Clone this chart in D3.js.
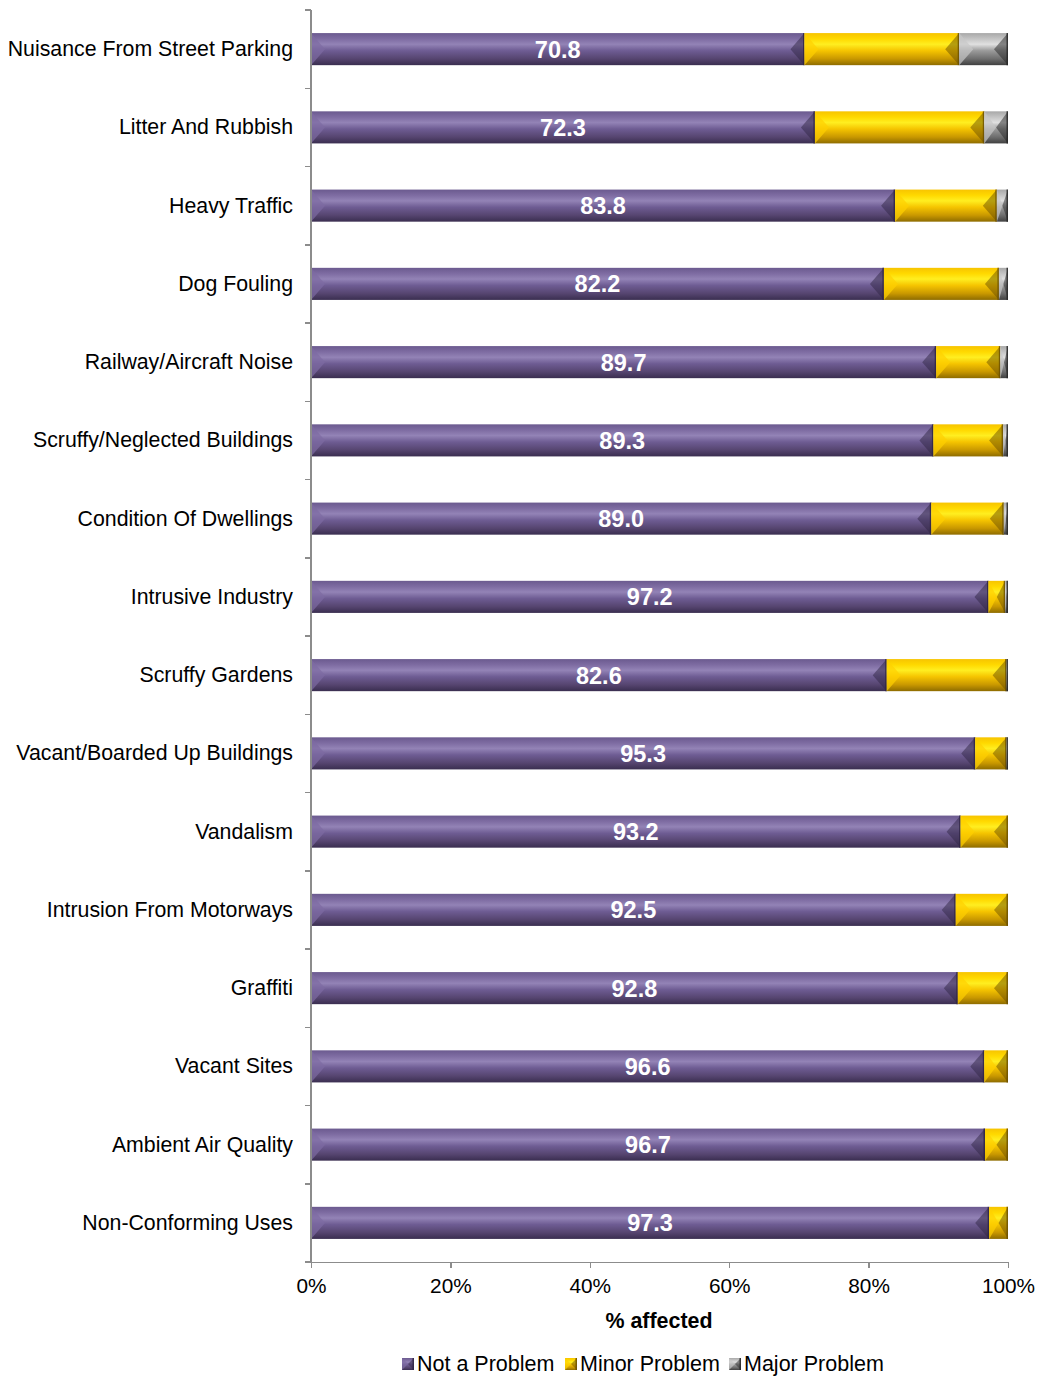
<!DOCTYPE html>
<html>
<head>
<meta charset="utf-8">
<title>Environmental problems</title>
<script src="https://d3js.org/d3.v7.min.js"></script>
<style>
  body { margin: 0; padding: 0; background: #fff; }
  svg { display: block; font-family: "Liberation Sans", Arial, sans-serif; }
  .axis path, .axis line { stroke: #8c8c8c; stroke-width: 1.5; shape-rendering: crispEdges; }
  .axis text { fill: #000; font-size: 20.8px; font-family: "Liberation Sans", Arial, sans-serif; }
</style>
</head>
<body>
<script>
var categories = [
  "Nuisance From Street Parking", "Litter And Rubbish", "Heavy Traffic", "Dog Fouling",
  "Railway/Aircraft Noise", "Scruffy/Neglected Buildings", "Condition Of Dwellings",
  "Intrusive Industry", "Scruffy Gardens", "Vacant/Boarded Up Buildings", "Vandalism",
  "Intrusion From Motorways", "Graffiti", "Vacant Sites", "Ambient Air Quality",
  "Non-Conforming Uses"
];
var notProblem   = [70.8, 72.3, 83.8, 82.2, 89.7, 89.3, 89.0, 97.2, 82.6, 95.3, 93.2, 92.5, 92.8, 96.6, 96.7, 97.3];
var minorProblem = [22.2, 24.3, 14.6, 16.5,  9.2, 10.0, 10.4,  2.4, 17.2,  4.5,  6.8,  7.5,  7.2,  3.4,  3.3,  2.7];
var majorProblem = [ 7.0,  3.4,  1.6,  1.3,  1.1,  0.7,  0.6,  0.4,  0.2,  0.2,  0.0,  0.0,  0.0,  0.0,  0.0,  0.0];
var seriesNames = ["Not a Problem", "Minor Problem", "Major Problem"];
var xTicks = [0, 20, 40, 60, 80, 100];

var W = 1038, H = 1376;
var plotL = 311, plotR = 1008, plotT = 10, plotB = 1262;

var palettes = [
  { stops: ["#6b5a8f", "#7e6ca2", "#9383b6", "#6e5c93", "#564570", "#3a2e50"], lt: "#7d6ba3", dk: "#2f2544" },
  { stops: ["#f7c400", "#ffd900", "#ffee20", "#f5c400", "#c99800", "#8e6c00"], lt: "#ffd000", dk: "#6b5000" },
  { stops: ["#a8a8a8", "#c4c4c4", "#e0e0e0", "#9a9a9a", "#6e6e6e", "#404040"], lt: "#c8c8c8", dk: "#262626" }
];
var offsets = [0, 0.18, 0.35, 0.55, 0.8, 1];

var svg = d3.select("body").append("svg").attr("width", W).attr("height", H);
var defs = svg.append("defs");
palettes.forEach(function (p, i) {
  var g = defs.append("linearGradient").attr("id", "g" + i)
    .attr("x1", 0).attr("y1", 0).attr("x2", 0).attr("y2", 1);
  p.stops.forEach(function (c, k) {
    g.append("stop").attr("offset", offsets[k]).attr("stop-color", c);
  });
});

var x = d3.scaleLinear().domain([0, 100]).range([plotL, plotR]);
var y = d3.scaleBand().domain(categories).range([plotT, plotB]).paddingInner(0.59).paddingOuter(0.295);

var rows = categories.map(function (c, i) {
  return { cat: c, vals: [notProblem[i], minorProblem[i], majorProblem[i]] };
});

// bevelled segment: gradient body, lighter left wedge, darker right wedge
function drawSegment(g, x0, x1, y0, h, s) {
  var w = x1 - x0;
  if (w <= 0.05) return;
  var p = palettes[s];
  g.append("rect").attr("x", x0).attr("y", y0).attr("width", w).attr("height", h)
    .attr("fill", "url(#g" + s + ")");
  var b = Math.min(14, w / 2);
  var ym = y0 + h / 2;
  g.append("polygon")
    .attr("points", [[x0, y0], [x0 + b, ym], [x0, y0 + h]].join(" "))
    .attr("fill", p.lt).attr("opacity", 0.7);
  g.append("polygon")
    .attr("points", [[x1, y0], [x1 - b, ym], [x1, y0 + h]].join(" "))
    .attr("fill", p.dk).attr("opacity", 0.5);
  g.append("line").attr("x1", x1 - 0.75).attr("x2", x1 - 0.75).attr("y1", y0).attr("y2", y0 + h)
    .attr("stroke", p.dk).attr("stroke-width", 1.5).attr("opacity", 0.8);
}

var bars = svg.append("g");
rows.forEach(function (r) {
  var y0 = y(r.cat), h = y.bandwidth();
  var acc = 0;
  r.vals.forEach(function (v, s) {
    drawSegment(bars, x(acc), x(acc + v), y0, h, s);
    acc += v;
  });
  bars.append("text")
    .attr("x", x(r.vals[0] / 2)).attr("y", y0 + h / 2 + 8.5)
    .attr("text-anchor", "middle").attr("fill", "#fff")
    .attr("font-size", 23.5).attr("font-weight", "bold")
    .text(r.vals[0].toFixed(1));
});

// y axis
var yAxis = svg.append("g").attr("class", "axis");
yAxis.append("line").attr("x1", plotL).attr("x2", plotL).attr("y1", plotT).attr("y2", plotB);
var bandStep = y.step();
d3.range(categories.length + 1).forEach(function (i) {
  var yy = plotT + i * bandStep;
  yAxis.append("line").attr("x1", plotL - 6).attr("x2", plotL).attr("y1", yy).attr("y2", yy);
});
svg.append("g").selectAll("text").data(categories).join("text")
  .attr("x", 293).attr("y", function (d) { return y(d) + y.bandwidth() / 2 + 7; })
  .attr("text-anchor", "end").attr("font-size", 21.3).attr("fill", "#000")
  .text(function (d) { return d; });

// x axis
var xAxis = d3.axisBottom(x).tickValues(xTicks).tickSize(6).tickPadding(10)
  .tickFormat(function (d) { return d + "%"; });
svg.append("g").attr("class", "axis").attr("transform", "translate(0," + plotB + ")").call(xAxis);

svg.append("text").attr("x", 659).attr("y", 1328).attr("text-anchor", "middle")
  .attr("font-size", 21.4).attr("font-weight", "bold").text("% affected");

// legend
var legendX = [402, 565, 729];
var leg = svg.append("g");
seriesNames.forEach(function (n, s) {
  var lg = leg.append("g");
  drawSegment(lg, legendX[s], legendX[s] + 12, 1358, 12, s);
  lg.append("text").attr("x", legendX[s] + 15).attr("y", 1371)
    .attr("font-size", 21.5).attr("fill", "#000").text(n);
});
</script>
</body>
</html>
